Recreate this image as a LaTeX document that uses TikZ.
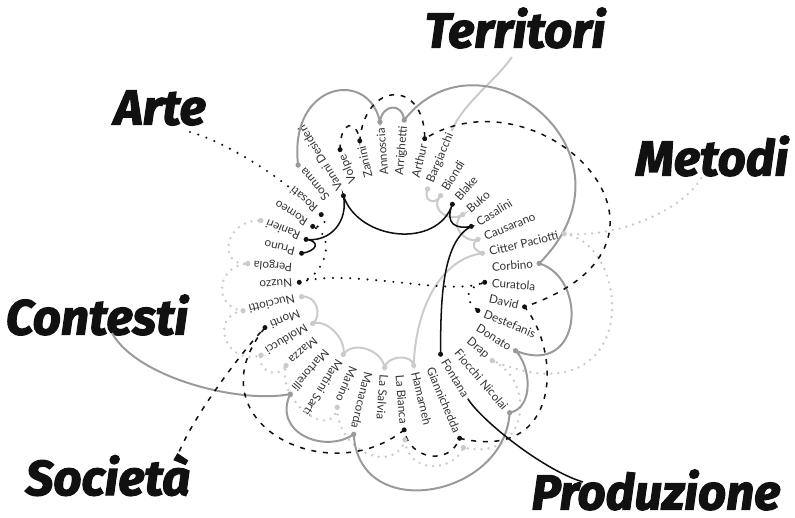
\documentclass[tikz,border=0pt]{standalone}
\usepackage{fontspec}
\setmainfont{Lato}
\newfontfamily\titolo{Fira Sans}[BoldItalicFeatures={FakeBold=2.5}]
\usetikzlibrary{calc}

\definecolor{nero}{HTML}{111111}
\definecolor{grigio}{HTML}{9A9A9A}
\definecolor{chiaro}{HTML}{CBCBCB}
\definecolor{testo}{HTML}{333333}

\tikzset{
  nome/.style={font=\fontsize{10}{12}\selectfont, text=testo, inner sep=0pt, anchor=west},
  etichetta/.style={font=\titolo\fontsize{42}{46}\selectfont\bfseries\itshape, text=nero, inner sep=0pt},
  produzione/.style={draw=nero, line width=1.3pt},
  arte/.style={draw=nero, line width=2pt, dash pattern=on 0pt off 2.6mm, line cap=round},
  societa/.style={draw=nero, line width=1.3pt, dash pattern=on 1.5mm off 2mm},
  contesti/.style={draw=grigio, line width=1.7pt},
  territori/.style={draw=chiaro, line width=1.7pt},
  metodi/.style={draw=chiaro, line width=2.3pt, dash pattern=on 0pt off 2.1mm, line cap=round},
}

\begin{document}
\begin{tikzpicture}[x=0.3mm, y=0.3mm]
  \useasboundingbox (-392,-243) rectangle (403,275);

  % Nomi in cerchio
  \node[nome, rotate=94.5] (annoscia) at (94.5:100) {Annoscia};
  \node[nome, rotate=85.5] (arrighetti) at (85.5:100) {Arrighetti};
  \node[nome, rotate=76.5] (arthur) at (76.5:100) {Arthur};
  \node[nome, rotate=67.5] (bargiacchi) at (67.5:100) {Bargiacchi};
  \node[nome, rotate=58.5] (biondi) at (58.5:100) {Biondi};
  \node[nome, rotate=49.5] (blake) at (49.5:100) {Blake};
  \node[nome, rotate=40.5] (buko) at (40.5:100) {Buko};
  \node[nome, rotate=31.5] (casalini) at (31.5:100) {Casalini};
  \node[nome, rotate=22.5] (causarano) at (22.5:100) {Causarano};
  \node[nome, rotate=13.5] (citter) at (13.5:100) {Citter Paciotti};
  \node[nome, rotate=4.5] (corbino) at (4.5:100) {Corbino};
  \node[nome, rotate=-4.5] (curatola) at (-4.5:100) {Curatola};
  \node[nome, rotate=-13.5] (david) at (-13.5:100) {David};
  \node[nome, rotate=-22.5] (destefanis) at (-22.5:100) {Destefanis};
  \node[nome, rotate=-31.5] (donato) at (-31.5:100) {Donato};
  \node[nome, rotate=-40.5] (drap) at (-40.5:100) {Drap};
  \node[nome, rotate=-49.5] (fiocchi) at (-49.5:100) {Fiocchi Nicolai};
  \node[nome, rotate=-58.5] (fontana) at (-58.5:100) {Fontana};
  \node[nome, rotate=-67.5] (giannichedda) at (-67.5:100) {Giannichedda};
  \node[nome, rotate=-76.5] (hamarneh) at (-76.5:100) {Hamarneh};
  \node[nome, rotate=-85.5] (labianca) at (-85.5:100) {La Bianca};
  \node[nome, rotate=-94.5] (lasalvia) at (-94.5:100) {La Salvia};
  \node[nome, rotate=-103.5] (manacorda) at (-103.5:100) {Manacorda};
  \node[nome, rotate=-112.5] (marino) at (-112.5:100) {Marino};
  \node[nome, rotate=-121.5] (martini) at (-121.5:100) {Martini Sarti};
  \node[nome, rotate=-130.5] (martorelli) at (-130.5:100) {Martorelli};
  \node[nome, rotate=-139.5] (mazza) at (-139.5:100) {Mazza};
  \node[nome, rotate=-148.5] (molducci) at (-148.5:100) {Molducci};
  \node[nome, rotate=-157.5] (monti) at (-157.5:100) {Monti};
  \node[nome, rotate=-166.5] (nucciotti) at (-166.5:100) {Nucciotti};
  \node[nome, rotate=-175.5] (nuzzo) at (-175.5:100) {Nuzzo};
  \node[nome, rotate=175.5] (pergola) at (175.5:100) {Pergola};
  \node[nome, rotate=166.5] (pruno) at (166.5:100) {Pruno};
  \node[nome, rotate=157.5] (ranieri) at (157.5:100) {Ranieri};
  \node[nome, rotate=148.5] (romeo) at (148.5:100) {Romeo};
  \node[nome, rotate=139.5] (rosati) at (139.5:100) {Rosati};
  \node[nome, rotate=130.5] (somma) at (130.5:100) {Somma};
  \node[nome, rotate=121.5] (vanni) at (121.5:100) {Vanni Desideri};
  \node[nome, rotate=112.5] (volpe) at (112.5:100) {Volpe};
  \node[nome, rotate=103.5] (zanini) at (103.5:100) {Zanini};

  % Etichette dei temi
  \node[etichetta] (territori) at (123,247) {Territori};
  \node[etichetta] (arte) at (-232,167) {Arte};
  \node[etichetta] (metodi) at (320,119) {Metodi};
  \node[etichetta] (contesti) at (-295,-40) {Contesti};
  \node[etichetta] (societa) at (-284,-200) {Società};
  \node[etichetta] (produzione) at (264,-215) {Produzione};

  \coordinate (territori-fine) at (120,218);
  \coordinate (arte-fine) at (-202,143);
  \coordinate (metodi-fine) at (310,98);
  \coordinate (contesti-fine) at (-280,-58);
  \coordinate (societa-fine) at (-215,-182);
  \coordinate (produzione-fine) at (191,-207);

  % Punti interni
  \coordinate (bargiacchi-i) at (67.5:93);
  \coordinate (biondi-i) at (58.5:93);
  \coordinate (blake-i) at (49.5:93);
  \coordinate (buko-i) at (40.5:93);
  \coordinate (casalini-i) at (31.5:93);
  \coordinate (causarano-i) at (22.5:93);
  \coordinate (citter-i) at (13.5:93);
  \coordinate (curatola-i) at (-4.5:93);
  \coordinate (destefanis-i) at (-22.5:93);
  \coordinate (fontana-i) at (-58.5:93);
  \coordinate (hamarneh-i) at (-76.5:93);
  \coordinate (lasalvia-i) at (-94.5:93);
  \coordinate (martini-i) at (-121.5:93);
  \coordinate (molducci-i) at (-148.5:93);
  \coordinate (nucciotti-i) at (-166.5:93);
  \coordinate (nuzzo-i) at (-175.5:93);
  \coordinate (pruno-i) at (166.5:93);
  \coordinate (ranieri-i) at (157.5:93);
  \coordinate (romeo-i) at (148.5:93);
  \coordinate (rosati-i) at (139.5:93);
  \coordinate (vanni-i) at (121.5:93);

  % Punti esterni
  \coordinate (annoscia-o) at ($(annoscia.east)+(94.5:6)$);
  \coordinate (arrighetti-o) at ($(arrighetti.east)+(85.5:6)$);
  \coordinate (arthur-o) at ($(arthur.east)+(76.5:6)$);
  \coordinate (citter-o) at ($(citter.east)+(13.5:6)$);
  \coordinate (corbino-o) at ($(corbino.east)+(4.5:6)$);
  \coordinate (david-o) at ($(david.east)+(-13.5:6)$);
  \coordinate (donato-o) at ($(donato.east)+(-31.5:6)$);
  \coordinate (drap-o) at ($(drap.east)+(-40.5:6)$);
  \coordinate (fiocchi-o) at ($(fiocchi.east)+(-49.5:6)$);
  \coordinate (giannichedda-o) at ($(giannichedda.east)+(-67.5:6)$);
  \coordinate (giannichedda-o2) at ($(giannichedda.east)+(-67.5:16)$);
  \coordinate (labianca-o) at ($(labianca.east)+(-85.5:6)$);
  \coordinate (labianca-o2) at ($(labianca.east)+(-85.5:16)$);
  \coordinate (manacorda-o) at ($(manacorda.east)+(-103.5:6)$);
  \coordinate (marino-o) at ($(marino.east)+(-112.5:6)$);
  \coordinate (martorelli-o) at ($(martorelli.east)+(-130.5:6)$);
  \coordinate (mazza-o) at ($(mazza.east)+(-139.5:6)$);
  \coordinate (molducci-o) at ($(molducci.east)+(-148.5:6)$);
  \coordinate (monti-o) at ($(monti.east)+(-157.5:6)$);
  \coordinate (nucciotti-o) at ($(nucciotti.east)+(-166.5:6)$);
  \coordinate (pergola-o) at ($(pergola.east)+(175.5:6)$);
  \coordinate (ranieri-o) at ($(ranieri.east)+(157.5:6)$);
  \coordinate (somma-o) at ($(somma.east)+(130.5:6)$);
  \coordinate (volpe-o) at ($(volpe.east)+(112.5:6)$);
  \coordinate (zanini-o) at ($(zanini.east)+(103.5:6)$);
  \coordinate (bargiacchi-e) at ($(bargiacchi.east)+(67.5:3)$);
  \coordinate (rosati-e) at ($(rosati.east)+(139.5:3)$);
  \coordinate (fontana-e) at ($(fontana.east)+(-58.5:3)$);

  % Metodi
  \draw[metodi] (citter-o) .. controls +(50,-5) and +(-20,-35) .. (metodi-fine);
  \draw[metodi] (citter-o) .. controls +(70,-11) and +(149,-62) .. (drap-o)
    .. controls +(45,-20) and +(65,-15) .. (giannichedda-o2)
    .. controls +(-10,-25) and +(3,-35) .. (labianca-o2)
    .. controls +(-10,-35) and +(0,-45) .. (marino-o)
    .. controls +(-5,-35) and +(-10,-35) .. (mazza-o)
    .. controls +(-8,-15) and +(-5,-15) .. (molducci-o)
    .. controls +(-35,-12) and +(-35,-5) .. (nucciotti-o)
    .. controls +(-30,3) and +(-32,-2) .. (pergola-o)
    .. controls +(-32,-2) and +(-35,2) .. (ranieri-o);

  % Territori
  \draw[territori] (bargiacchi-e) .. controls +(67.5:30) and +(-125:30) .. (territori-fine);
  \draw[territori] (bargiacchi-i) .. controls +(-5,-12) and +(-5,-10) .. (biondi-i)
    .. controls +(-12,-15) and +(-12,-8) .. (buko-i)
    .. controls +(-15,-10) and +(-12,-5) .. (causarano-i)
    .. controls +(-8,-5) and +(-8,3) .. (citter-i)
    .. controls +(-40,-5) and +(2,60) .. (hamarneh-i)
    .. controls +(-2,12) and +(2,12) .. (lasalvia-i)
    .. controls +(-3,18) and +(10,14) .. (martini-i)
    .. controls +(3,15) and +(14,5) .. (molducci-i)
    .. controls +(10,8) and +(15,2) .. (nucciotti-i);

  % Contesti
  \draw[contesti] (somma-o) .. controls +(-10,83) and +(-11,54) .. (annoscia-o)
    .. controls +(2,18) and +(-2,18) .. (arrighetti-o)
    .. controls +(77,99) and +(110,110) .. (corbino-o)
    .. controls +(49,-15) and +(67,-27) .. (donato-o)
    .. controls +(15,-15) and +(25,5) .. (fiocchi-o)
    .. controls +(-5,-85) and +(5,-90) .. (manacorda-o)
    .. controls +(-30,-20) and +(-18,-38) .. (martorelli-o)
    .. controls +(-50,-10) and +(25,-45) .. (contesti-fine);

  % Arte
  \draw[arte] (arte-fine) .. controls +(30,-8) and +(-25,20) .. (rosati-e);
  \draw[arte] (rosati-i) .. controls +(8,-6) and +(10,-2) .. (romeo-i)
    .. controls +(25,-10) and +(25,5) .. (nuzzo-i)
    .. controls +(50,15) and +(-35,-15) .. (curatola-i)
    .. controls +(-25,-8) and +(-10,8) .. (destefanis-i);

  % Societa
  \draw[societa] (volpe-o) .. controls +(0,30) and +(-3,22) .. (zanini-o)
    .. controls +(5,60) and +(0,60) .. (arthur-o)
    .. controls +(117,72) and +(192,65) .. (david-o)
    .. controls +(37,-45) and +(102,-24) .. (giannichedda-o)
    .. controls +(-10,-28) and +(5,-30) .. (labianca-o)
    .. controls +(-77,-62) and +(-75,-93) .. (monti-o)
    .. controls +(-20,-20) and +(15,40) .. (societa-fine);

  % Produzione
  \draw[produzione] (pruno-i) .. controls +(15,2) and +(15,-2) .. (ranieri-i)
    .. controls +(25,-3) and +(5,-25) .. (vanni-i)
    .. controls +(15,-45) and +(-15,-45) .. (blake-i)
    .. controls +(-8,-20) and +(-15,-3) .. (casalini-i)
    .. controls +(-30,-15) and +(0,50) .. (fontana-i);
  \draw[produzione] (fontana-e) .. controls +(-58.5:25) and +(-40,12) .. (produzione-fine);

  % Pallini
  \fill[chiaro] (bargiacchi-i) circle (0.8mm) (biondi-i) circle (0.8mm)
    (buko-i) circle (0.8mm) (causarano-i) circle (0.8mm) (citter-i) circle (0.8mm)
    (hamarneh-i) circle (0.8mm) (lasalvia-i) circle (0.8mm) (martini-i) circle (0.8mm)
    (molducci-i) circle (0.8mm) (nucciotti-i) circle (0.8mm)
    (citter-o) circle (0.8mm) (drap-o) circle (0.8mm) (giannichedda-o2) circle (0.8mm)
    (labianca-o2) circle (0.8mm) (marino-o) circle (0.8mm) (mazza-o) circle (0.8mm)
    (molducci-o) circle (0.8mm) (nucciotti-o) circle (0.8mm) (pergola-o) circle (0.8mm)
    (ranieri-o) circle (0.8mm);
  \fill[grigio] (somma-o) circle (0.8mm) (annoscia-o) circle (0.8mm)
    (arrighetti-o) circle (0.8mm) (corbino-o) circle (0.8mm) (donato-o) circle (0.8mm)
    (fiocchi-o) circle (0.8mm) (manacorda-o) circle (0.8mm) (martorelli-o) circle (0.8mm);
  \fill[nero] (vanni-i) circle (0.75mm) (blake-i) circle (0.75mm)
    (casalini-i) circle (0.75mm) (fontana-i) circle (0.75mm) (ranieri-i) circle (0.75mm)
    (pruno-i) circle (0.75mm) (rosati-i) circle (0.75mm) (romeo-i) circle (0.75mm)
    (nuzzo-i) circle (0.75mm) (curatola-i) circle (0.75mm) (destefanis-i) circle (0.75mm)
    (volpe-o) circle (0.75mm) (zanini-o) circle (0.75mm) (arthur-o) circle (0.75mm)
    (david-o) circle (0.75mm) (giannichedda-o) circle (0.75mm)
    (labianca-o) circle (0.75mm) (monti-o) circle (0.75mm);
\end{tikzpicture}
\end{document}
